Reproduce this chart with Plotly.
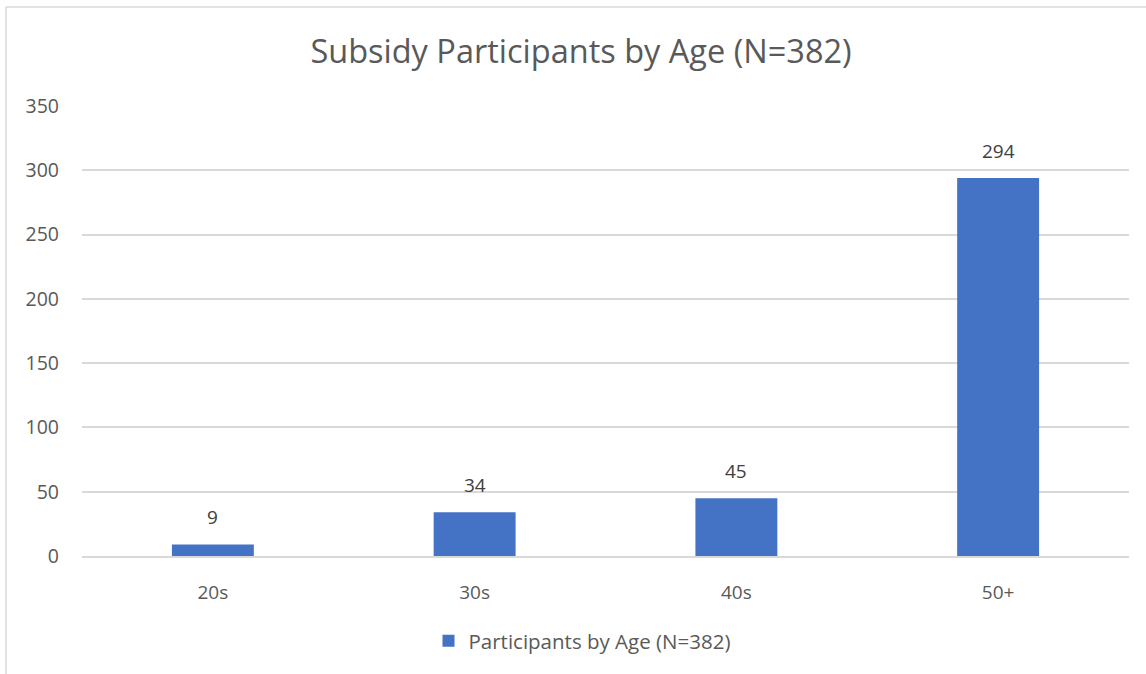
import plotly.graph_objects as go

categories = ["20s", "30s", "40s", "50+"]
values = [9, 34, 45, 294]
series_name = "Participants by Age (N=382)"
title_text = "Subsidy Participants by Age (N=382)"

W, H = 1146, 674
L, R, T, B = 82, 17, 106, 118
pw, ph = W - L - R, H - T - B

def px_x(x):
    return (x - L) / pw

def px_y(y):
    return (H - B - y) / ph

fig = go.Figure()
fig.add_trace(go.Bar(
    x=categories, y=values, name=series_name,
    marker=dict(color="#4472C4", line=dict(width=0)),
))

for c, v in zip(categories, values):
    fig.add_annotation(x=c, y=v, text=str(v), showarrow=False,
                       yanchor="bottom", yshift=12,
                       font=dict(size=19, color="#404040", family="Open Sans"))

grid = "#d9d9d9"
fig.update_layout(
    width=W, height=H,
    margin=dict(l=L, r=R, t=T, b=B, autoexpand=False),
    paper_bgcolor="white", plot_bgcolor="white",
    font=dict(family="Open Sans", color="#595959"),
    bargap=0.687,
    title=dict(text=title_text, x=0.507, xanchor="center", y=1 - 52 / H, yanchor="middle",
               font=dict(size=32.5, color="#595959", family="Open Sans")),
    xaxis=dict(showline=True, linecolor=grid, linewidth=1.5, showgrid=False,
               tickfont=dict(size=19, color="#595959"), ticks="", ticklabelstandoff=18),
    yaxis=dict(range=[0, 350], dtick=50, showgrid=True, gridcolor=grid, gridwidth=1.5,
               zeroline=False, showline=False, ticks="",
               tickfont=dict(size=19.5, color="#595959"), ticklabelstandoff=22),
    showlegend=True,
    legend=dict(orientation="h", x=px_x(582), xanchor="center", y=px_y(641), yanchor="middle",
                font=dict(size=20.5, color="#595959"), itemwidth=30),
)

# chart border (left and top visible)
fig.add_shape(type="line", xref="paper", yref="paper",
              x0=px_x(6), x1=px_x(6), y0=px_y(7), y1=px_y(H + 5),
              line=dict(color=grid, width=1.5))
fig.add_shape(type="line", xref="paper", yref="paper",
              x0=px_x(6), x1=px_x(W + 5), y0=px_y(7), y1=px_y(7),
              line=dict(color=grid, width=1.5))

fig.write_html("out.html")
